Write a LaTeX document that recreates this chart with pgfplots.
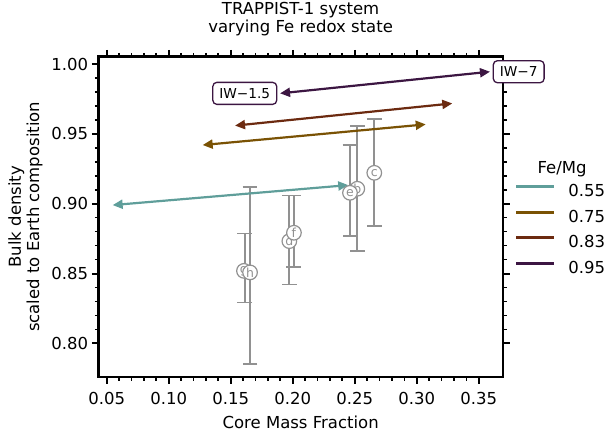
\documentclass[border=0pt]{standalone}
\usepackage{fontspec}
\setmainfont{DejaVu Sans}
\usepackage{pgfplots}
\pgfplotsset{compat=1.18}
\usetikzlibrary{arrows.meta}
\definecolor{c55}{RGB}{95,158,154}
\definecolor{c75}{RGB}{122,82,4}
\definecolor{c83}{RGB}{108,42,16}
\definecolor{c95}{RGB}{60,22,66}
\definecolor{eb}{RGB}{145,145,145}
\newcommand{\fs}{\fontsize{16.5bp}{18.3bp}\selectfont}
\begin{document}
\begin{tikzpicture}
\path[use as bounding box] (0,0) rectangle (606bp,431bp);
\begin{axis}[
  at={(98.3bp,54bp)}, anchor=south west,
  width=404.7bp, height=320.5bp, scale only axis,
  xmin=0.04323, xmax=0.3696, ymin=0.7759, ymax=1.0054,
  xtick={0.05,0.10,0.15,0.20,0.25,0.30,0.35},
  ytick={0.80,0.85,0.90,0.95,1.00},
  minor x tick num=4, minor y tick num=4,
  scaled ticks=false,
  clip=false,
  tick align=outside,
  major tick length=6.5bp, minor tick length=3.5bp,
  major tick style={line width=2bp, black},
  minor tick style={line width=1.6bp, black},
  axis line style={line width=2.6bp},
  tick label style={font=\fs},
  /pgf/number format/fixed, /pgf/number format/fixed zerofill,
  /pgf/number format/precision=2,
  /pgf/number format/assume math mode=true,
  xticklabel style={inner sep=0pt, anchor=north, yshift=-8.2bp},
  yticklabel style={inner sep=0pt, anchor=east, xshift=-3.5bp},
  xlabel={Core Mass Fraction},
  xlabel style={at={(axis description cs:0.5,0)}, anchor=base, yshift=-51bp, inner sep=0pt, font=\fs},
  ylabel={Bulk density\\scaled to Earth composition},
  ylabel style={at={(axis description cs:-0.1799,0.5)}, anchor=center, align=center, inner sep=0pt, font=\fs},
  title={TRAPPIST-1 system\\varying Fe redox state},
  title style={at={(axis description cs:0.5,1)}, anchor=south, yshift=14.3bp, inner sep=0pt, align=center, font=\fs},
  legend style={at={(axis description cs:1.0289,0.6000)}, anchor=north west, draw=none, fill=none,
    inner sep=0pt, outer sep=0pt, row sep=9.5bp, column sep=13bp,
    nodes={inner sep=0pt, text height=12bp, text depth=4bp, font=\fs}},
  legend cell align=left,
  legend image code/.code={\draw[#1] (0bp,6bp) -- (37.7bp,6bp);},
  planet/.style={only marks, forget plot, mark=*, mark size=7.3bp,
    mark options={fill=white, draw=eb, line width=1.2bp},
    point meta=explicit symbolic, nodes near coords, nodes near coords align={center},
    every node near coord/.append style={font=\fontsize{12.5bp}{13bp}\selectfont, text=eb, inner sep=0pt, anchor=center}},
  arr/.style={forget plot, line width=2.2bp, {Triangle[length=10bp,width=9bp]}-{Triangle[length=10bp,width=9bp]}},
]
% error bars
\addplot[only marks, mark=none, forget plot,
  error bars/.cd, y dir=both, y explicit, error mark=-,
  error bar style={eb, line width=1.8bp},
  error mark options={rotate=90, eb, line width=1.8bp, mark size=7.3bp}]
  table[x=x, y=y, y error plus=ep, y error minus=em] {
x      y      ep     em
0.2521 0.9107 0.0451 0.0444
0.2658 0.9221 0.0383 0.0379
0.1973 0.8732 0.0327 0.0310
0.2462 0.9078 0.0340 0.0308
0.2008 0.8792 0.0267 0.0248
0.1613 0.8519 0.0268 0.0226
0.1656 0.8508 0.0613 0.0655
};
% arrows
\addplot[arr, c55] coordinates {(0.0548,0.8990) (0.2448,0.9133)};
\addplot[arr, c75] coordinates {(0.1274,0.9420) (0.3073,0.9568)};
\addplot[arr, c83] coordinates {(0.1535,0.9559) (0.3287,0.9718)};
\addplot[arr, c95] coordinates {(0.1898,0.9790) (0.3591,0.9945)};
% planets
\addplot[planet] coordinates {(0.2521,0.9107) [b]};
\addplot[planet] coordinates {(0.2658,0.9221) [c]};
\addplot[planet] coordinates {(0.1973,0.8732) [d]};
\addplot[planet] coordinates {(0.2462,0.9078) [e]};
\addplot[planet] coordinates {(0.2010,0.8792) [f]};
\addplot[planet] coordinates {(0.1607,0.8519) [g]};
\addplot[planet] coordinates {(0.1656,0.8508) [h]};
% legend
\addlegendimage{c55, line width=3bp}\addlegendentry{0.55}
\addlegendimage{c75, line width=3bp}\addlegendentry{0.75}
\addlegendimage{c83, line width=3bp}\addlegendentry{0.83}
\addlegendimage{c95, line width=3bp}\addlegendentry{0.95}
% labels
\node[anchor=base, font=\fs] at (axis description cs:1.1458,0.6356) {Fe/Mg};
\node[anchor=east, xshift=-2.7bp, draw=c95, line width=1.3bp, rounded corners=4bp, fill=white,
  inner xsep=6.5bp, inner ysep=6bp, text height=10bp, text depth=0bp,
  font=\fontsize{13.7bp}{15bp}\selectfont] at (axis cs:0.1898,0.9790) {IW−1.5};
\node[anchor=west, xshift=2.7bp, draw=c95, line width=1.3bp, rounded corners=4bp, fill=white,
  inner xsep=6.5bp, inner ysep=6bp, text height=10bp, text depth=0bp,
  font=\fontsize{13.7bp}{15bp}\selectfont] at (axis cs:0.3591,0.9945) {IW−7};
\end{axis}
\end{tikzpicture}
\end{document}
